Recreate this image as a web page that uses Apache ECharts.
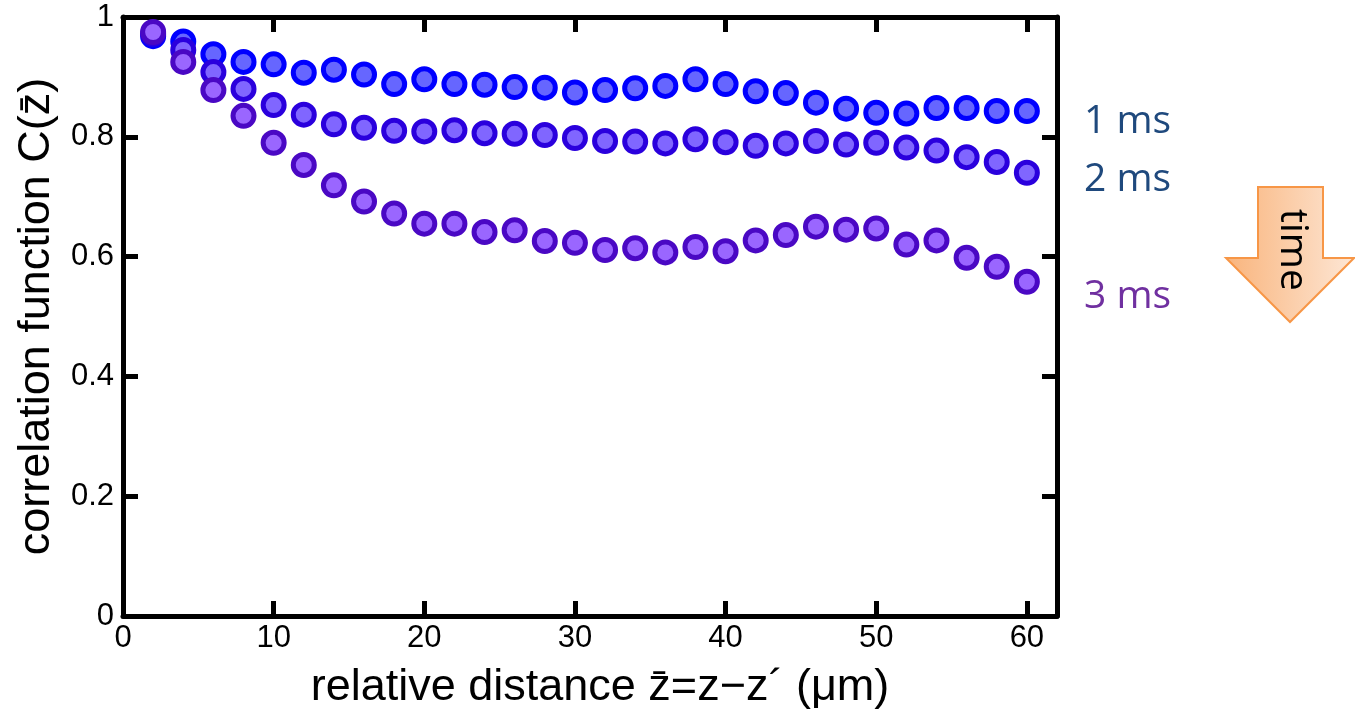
<!DOCTYPE html>
<html>
<head>
<meta charset="utf-8">
<script src="https://cdn.jsdelivr.net/npm/echarts@6/dist/echarts.min.js"></script>
<style>
  html, body { margin: 0; padding: 0; background: #fff; }
  #chart { width: 1355px; height: 715px; }
</style>
</head>
<body>
<div id="chart"></div>
<script>
// Relative distance (µm)
const distance = [2, 4, 6, 8, 10, 12, 14, 16, 18, 20, 22, 24, 26, 28, 30,
                  32, 34, 36, 38, 40, 42, 44, 46, 48, 50, 52, 54, 56, 58, 60];

// Correlation function C(z̄) after 1, 2 and 3 ms
const corr1ms = [0.968, 0.959, 0.938, 0.925, 0.921, 0.907, 0.912, 0.904, 0.888, 0.896,
                 0.888, 0.887, 0.883, 0.882, 0.874, 0.878, 0.881, 0.885, 0.896, 0.888,
                 0.876, 0.873, 0.857, 0.847, 0.840, 0.839, 0.848, 0.848, 0.843, 0.843];
const corr2ms = [0.972, 0.945, 0.908, 0.880, 0.853, 0.837, 0.821, 0.815, 0.810, 0.809,
                 0.811, 0.806, 0.805, 0.803, 0.798, 0.793, 0.792, 0.789, 0.796, 0.791,
                 0.785, 0.789, 0.793, 0.787, 0.790, 0.782, 0.777, 0.766, 0.758, 0.740];
const corr3ms = [0.975, 0.925, 0.878, 0.835, 0.790, 0.753, 0.719, 0.692, 0.672, 0.655,
                 0.655, 0.641, 0.644, 0.626, 0.623, 0.611, 0.614, 0.607, 0.616, 0.609,
                 0.627, 0.636, 0.650, 0.645, 0.647, 0.620, 0.627, 0.598, 0.583, 0.558];

const seriesNames = ['1 ms', '2 ms', '3 ms'];
const xTicks = [0, 10, 20, 30, 40, 50, 60];
const yTicks = [0, 0.2, 0.4, 0.6, 0.8, 1];

const GRID = { left: 123, top: 17, right: 298, bottom: 93 };
const tickFont = { fontFamily: '"Liberation Sans", Arial, sans-serif', fontSize: 31, color: '#000' };
const titleFont = { fontFamily: '"Liberation Sans", Arial, sans-serif', fontSize: 45, color: '#000' };
const noteFont = '"Open Sans", Lato, sans-serif';

const markerStyles = [
  { color: '#6666ff', borderColor: '#0000ff' },
  { color: '#8066ff', borderColor: '#2a00dd' },
  { color: '#9a66ff', borderColor: '#4a08c4' }
];

function pairs(values) {
  return distance.map((d, i) => [d, values[i]]);
}

const frameLine = { show: true, onZero: false, lineStyle: { color: '#000', width: 5 } };
const innerTick = { show: true, inside: true, length: 15, lineStyle: { color: '#000', width: 5 } };

const chart = echarts.init(document.getElementById('chart'), null, { renderer: 'canvas' });

chart.setOption({
  animation: false,
  backgroundColor: '#fff',
  grid: GRID,
  xAxis: [
    {
      type: 'value', position: 'bottom', min: 0, max: 62,
      axisLine: frameLine,
      axisTick: Object.assign({ customValues: xTicks }, innerTick),
      axisLabel: Object.assign({ customValues: xTicks, margin: 7 }, tickFont),
      splitLine: { show: false },
      name: 'relative distance z\u0304=z\u2212z\u00b4 (\u03bcm)',
      nameLocation: 'middle', nameGap: 49,
      nameTextStyle: Object.assign({ padding: [0, 0, 0, 20] }, titleFont)
    },
    {
      type: 'value', position: 'top', min: 0, max: 62,
      axisLine: frameLine,
      axisTick: Object.assign({ customValues: xTicks }, innerTick),
      axisLabel: { show: false },
      splitLine: { show: false }
    }
  ],
  yAxis: [
    {
      type: 'value', position: 'left', min: 0, max: 1,
      axisLine: frameLine,
      axisTick: Object.assign({ customValues: yTicks }, innerTick),
      axisLabel: Object.assign({ customValues: yTicks, margin: 9 }, tickFont),
      splitLine: { show: false },
      name: 'correlation function C(z\u0304)',
      nameLocation: 'middle', nameGap: 64,
      nameTextStyle: titleFont
    },
    {
      type: 'value', position: 'right', min: 0, max: 1,
      axisLine: frameLine,
      axisTick: Object.assign({ customValues: yTicks }, innerTick),
      axisLabel: { show: false },
      splitLine: { show: false }
    }
  ],
  series: [corr1ms, corr2ms, corr3ms].map((vals, k) => ({
    name: seriesNames[k],
    type: 'scatter',
    xAxisIndex: 0,
    yAxisIndex: 0,
    data: pairs(vals),
    symbol: 'circle',
    symbolSize: 21,
    itemStyle: {
      color: markerStyles[k].color,
      borderColor: markerStyles[k].borderColor,
      borderWidth: 5,
      opacity: 1
    },
    z: 2 + k
  })),
  graphic: [
    // series captions to the right of the frame
    { type: 'text', left: 1084, top: 102,
      style: { text: seriesNames[0], fill: '#1f497d', fontFamily: noteFont, fontSize: 39 } },
    { type: 'text', left: 1084, top: 160,
      style: { text: seriesNames[1], fill: '#1f497d', fontFamily: noteFont, fontSize: 39 } },
    { type: 'text', left: 1084, top: 277,
      style: { text: seriesNames[2], fill: '#7030a0', fontFamily: noteFont, fontSize: 39 } },
    // downward "time" arrow
    {
      type: 'polygon',
      shape: { points: [[1258, 187], [1323, 187], [1323, 258], [1354, 258], [1290, 322], [1226, 258], [1258, 258]] },
      style: {
        fill: new echarts.graphic.LinearGradient(0, 0, 1, 0, [
          { offset: 0, color: '#f9b47c' },
          { offset: 1, color: '#fde7d6' }
        ]),
        stroke: '#f79646',
        lineWidth: 2
      },
      z: 10
    },
    {
      type: 'text', x: 1292, y: 250, rotation: -Math.PI / 2,
      style: { text: 'time', fill: '#000', fontFamily: noteFont, fontSize: 39,
               align: 'center', verticalAlign: 'middle' },
      z: 11
    }
  ]
});
</script>
</body>
</html>
